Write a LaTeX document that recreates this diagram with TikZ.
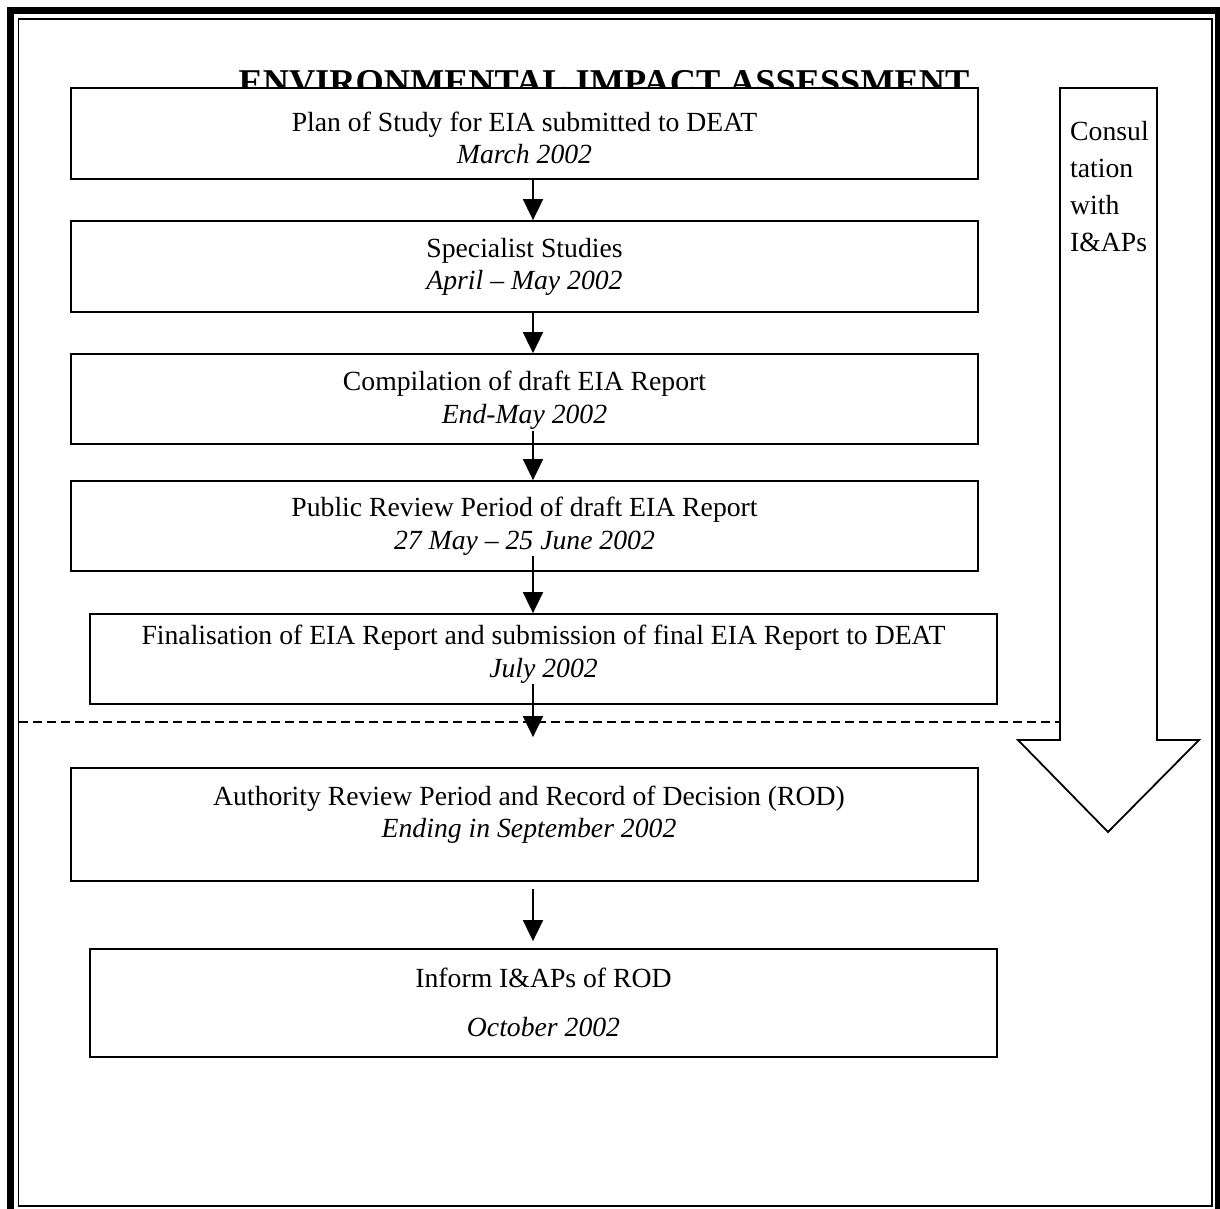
\documentclass[tikz,border=0pt]{standalone}
\usepackage{fontspec}
\setmainfont{Liberation Serif}
\usetikzlibrary{arrows.meta}
\begin{document}
\begin{tikzpicture}[x=1pt,y=-1pt,
  box/.style={draw,line width=1.8pt,fill=white,rectangle,inner sep=0pt},
  wbox/.style={box,minimum width=907pt},
  txt/.style={align=center,inner sep=0pt,font=\fontsize{27.7}{32.5}\selectfont},
  arr/.style={line width=1.8pt,-{Triangle[width=20pt,length=21pt]}},
  sep/.style={line width=1.8pt,dash pattern=on 9pt off 5pt},
  frameout/.style={line width=7pt},
  framein/.style={line width=1.5pt},
  bigarrow/.style={line width=1.8pt,line join=miter}
]
\useasboundingbox (0,0) rectangle (1220,1209);
% page frame
\draw[frameout] (10.5,11) rectangle (1218,1214);
\draw[framein] (18.5,19) rectangle (1212,1206);

% title (partly hidden by the first box)
\node[anchor=base,inner sep=0pt,font=\fontsize{36.3}{40}\selectfont\bfseries] (title) at (604,95) {ENVIRONMENTAL IMPACT ASSESSMENT};

% boxes
\node[wbox,minimum height=91pt] (b1) at (524.5,133.5) {};
\node[wbox,minimum height=91pt] (b2) at (524.5,266.5) {};
\node[wbox,minimum height=90pt] (b3) at (524.5,399) {};
\node[wbox,minimum height=90pt] (b4) at (524.5,526) {};
\node[wbox,minimum height=90pt] (b5) at (543.5,659) {};
\node[wbox,minimum height=113pt] (b6) at (524.5,824.5) {};
\node[wbox,minimum height=108pt] (b7) at (543.5,1003) {};

% texts
\node[txt] (t1) at (524.5,138) {Plan of Study for EIA submitted to DEAT\\\textit{March 2002}};
\node[txt] (t2) at (524.5,267) {Specialist Studies\\\textit{April – May 2002}};
\node[txt] (t3) at (524.5,400) {Compilation of draft EIA Report\\\textit{End-May 2002}};
\node[txt] (t4) at (524.5,526) {Public Review Period of draft EIA Report\\\textit{27 May – 25 June 2002}};
\node[txt] (t5) at (543.5,654) {Finalisation of EIA Report and submission of final EIA Report to DEAT\\\textit{July 2002}};
\node[txt] (t6) at (529,814.5) {Authority Review Period and Record of Decision (ROD)\\\textit{Ending in September 2002}};
\node[txt] (t7) at (543.5,1002.5) {Inform I\&APs of ROD\\[16pt]\textit{October 2002}};

% consultation arrow
\draw[bigarrow] (1060,88) -- (1157,88) -- (1157,740) -- (1199,740) -- (1108,832) -- (1018,740) -- (1060,740) -- cycle;
\node[anchor=north west,align=left,inner sep=0pt,font=\fontsize{27.7}{37}\selectfont] (ct) at (1070,121) {Consul\\tation\\with\\I\&APs};

% separator
\coordinate (dL) at (19,722);
\coordinate (dR) at (1060,722);
\draw[sep] (dL) -- (dR);

% flow arrows
\draw[arr] ([xshift=8.5pt]b1.south) -- ([xshift=8.5pt]b2.north);
\draw[arr] ([xshift=8.5pt]b2.south) -- ([xshift=8.5pt]b3.north);
\draw[arr] ([xshift=8.5pt,yshift=14pt]b3.south) -- ([xshift=8.5pt]b4.north);
\draw[arr] ([xshift=8.5pt,yshift=16pt]b4.south) -- ([xshift=-10.5pt]b5.north);
\draw[arr] ([xshift=-10.5pt,yshift=21pt]b5.south) -- ([xshift=8.5pt,yshift=30pt]b6.north);
\draw[arr] ([xshift=8.5pt,yshift=-7pt]b6.south) -- ([xshift=-10.5pt,yshift=7pt]b7.north);
\end{tikzpicture}
\end{document}
